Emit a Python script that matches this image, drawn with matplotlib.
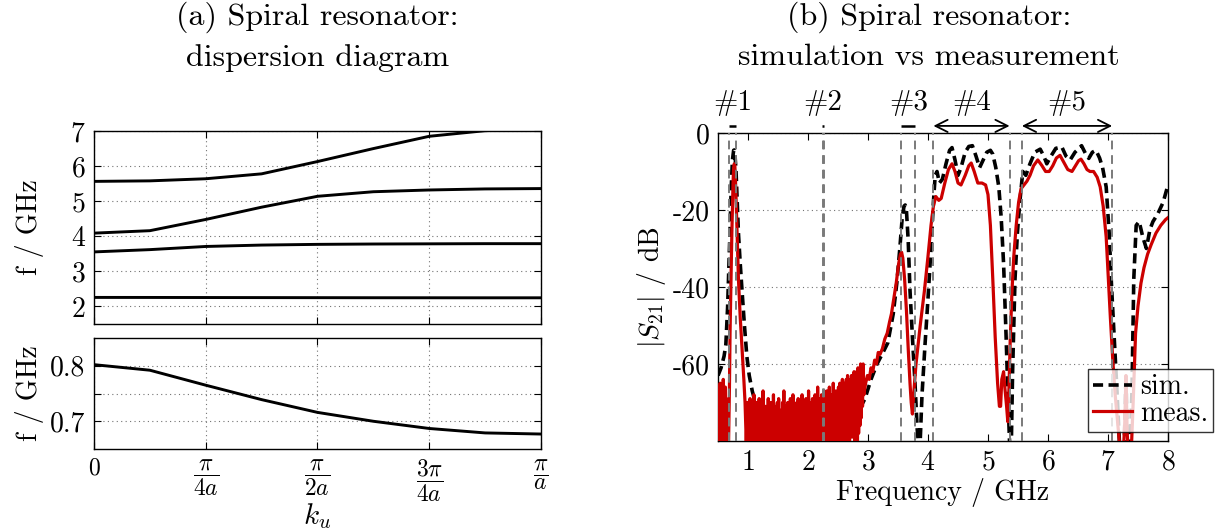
import numpy as np
import matplotlib
matplotlib.use("Agg")
import matplotlib.pyplot as plt
from matplotlib.transforms import blended_transform_factory

plt.rcParams.update({
    "font.family": "cmr10",
    "mathtext.fontset": "cm",
    "axes.unicode_minus": False,
    "axes.formatter.use_mathtext": True,
})

# ---------------- dispersion diagram (k in units of pi/a) ----------------
k_u = [0.0, 0.125, 0.25, 0.375, 0.5, 0.625, 0.75, 0.875, 1.0]
mode1 = [0.802, 0.792, 0.765, 0.739, 0.716, 0.700, 0.687, 0.679, 0.677]
mode2 = [2.258, 2.257, 2.255, 2.253, 2.251, 2.249, 2.248, 2.247, 2.247]
mode3 = [3.555, 3.62, 3.71, 3.75, 3.77, 3.78, 3.785, 3.79, 3.79]
mode4 = [4.09, 4.16, 4.48, 4.83, 5.14, 5.27, 5.32, 5.35, 5.36]
mode5 = [5.565, 5.58, 5.64, 5.78, 6.13, 6.50, 6.85, 7.01, 7.07]
k_ticks = [0, 0.25, 0.5, 0.75, 1.0]
k_labels = ["$0$", r"$\dfrac{\pi}{4a}$", r"$\dfrac{\pi}{2a}$",
            r"$\dfrac{3\pi}{4a}$", r"$\dfrac{\pi}{a}$"]

# ---------------- |S21| simulation ----------------
sim_f = [0.50, 0.55, 0.60, 0.63, 0.66, 0.68, 0.70, 0.72, 0.74, 0.76,
         0.77, 0.78, 0.80, 0.82, 0.84, 0.87, 0.90, 0.94, 0.98, 1.02,
         1.07, 1.12, 1.20, 1.30, 1.50, 1.80, 2.10, 2.40, 2.60, 2.75,
         2.85, 2.95, 3.05, 3.15, 3.25, 3.33, 3.42, 3.48, 3.53, 3.57,
         3.60, 3.62, 3.64, 3.67, 3.70, 3.74, 3.78, 3.82, 3.86, 3.90,
         3.95, 4.00, 4.05, 4.09, 4.12, 4.15, 4.19, 4.24, 4.30, 4.36,
         4.40, 4.45, 4.50, 4.55, 4.62, 4.68, 4.74, 4.80, 4.86, 4.92,
         4.98, 5.04, 5.08, 5.13, 5.18, 5.22, 5.26, 5.30, 5.34, 5.37,
         5.39, 5.41, 5.45, 5.49, 5.53, 5.58, 5.63, 5.70, 5.78, 5.87,
         5.93, 5.98, 6.05, 6.13, 6.23, 6.30, 6.37, 6.45, 6.56, 6.63,
         6.68, 6.74, 6.80, 6.86, 6.91, 6.97, 7.02, 7.06, 7.10, 7.15,
         7.19, 7.23, 7.27, 7.30, 7.33, 7.37, 7.40, 7.43, 7.47, 7.52,
         7.58, 7.64, 7.70, 7.75, 7.83, 7.92, 8.00]
sim_db = [-63, -61, -58, -55, -45, -35, -25, -14, -7, -4.5,
          -4.4, -5, -10, -18, -26, -34, -41, -50, -58, -63,
          -67, -70, -72, -74, -76, -78, -78, -77, -75, -74,
          -72, -69, -64, -60, -57, -54.5, -47, -39, -30, -22,
          -19, -18.7, -20, -28, -41, -53, -64, -77, -84, -68,
          -55, -43, -30, -18, -11, -10, -13, -12, -8, -4.5,
          -3.8, -7, -11, -9, -5, -3.5, -3.3, -6, -9, -7,
          -5, -4.5, -5.5, -9, -14, -22, -34, -52, -72, -85,
          -80, -62, -38, -26, -18, -10, -11, -8, -5, -4.2,
          -6, -8, -6, -4, -3.6, -6, -7, -5, -3.3, -5.5,
          -6.6, -5, -4.5, -6.5, -9, -14, -26, -40, -52, -67,
          -80, -86, -82, -63, -85, -82, -67, -38, -24, -23,
          -27, -30, -25, -23, -21, -18, -13.5]

# ---------------- |S21| measurement ----------------
# noise floor below the first passband (0.50 ... 0.665 GHz)
meas_floor_a = (0.50, 0.665)
meas_floor_a_db = [-66, -84, -68, -88, -65, -82, -69, -86, -67, -90,
                   -64, -83, -68, -85, -66, -88, -69, -84, -70, -86]
# first passband
meas_pk_f = [0.67, 0.69, 0.70, 0.72, 0.73, 0.75, 0.76, 0.77, 0.78, 0.79,
             0.81, 0.84, 0.87, 0.90, 0.93, 0.95, 0.97]
meas_pk_db = [-86, -66, -52, -35, -26, -13, -9, -8, -8.5, -12,
              -22, -38, -48, -56, -64, -70, -80]
# noise floor in the wide stopband (0.99 ... 2.93 GHz)
meas_floor_b = (0.99, 2.93)
meas_floor_b_db = [
    -70, -86, -72, -83, -69, -90, -73, -84, -71, -88, -68, -85, -74, -82, -70, -91, -72, -84, -69, -87,
    -73, -83, -70, -89, -67, -85, -72, -82, -71, -90, -74, -84, -69, -86, -72, -83, -70, -88, -73, -85,
    -68, -84, -71, -90, -73, -82, -70, -87, -69, -85, -72, -83, -74, -89, -70, -84, -67, -86, -71, -82,
    -72, -88, -70, -84, -73, -85, -69, -90, -71, -83, -68, -86, -72, -84, -74, -87, -70, -82, -69, -89,
    -71, -84, -73, -86, -68, -83, -70, -88, -72, -85, -69, -82, -71, -90, -67, -84, -73, -86, -70, -83,
    -69, -87, -71, -84, -68, -85, -70, -82, -66, -88, -69, -84, -71, -86, -68, -83, -70, -89, -67, -85,
    -69, -84, -67, -86, -70, -82, -66, -87, -68, -83, -69, -85, -65, -84, -68, -88, -67, -82, -69, -86,
    -66, -83, -65, -85, -67, -81, -64, -84, -66, -82, -65, -80, -64, -83, -63, -79, -65, -81, -64, -78,
    -63, -79, -64, -78, -62, -80, -63, -77, -62, -86, -61, -78, -62, -76, -60, -74, -61, -71, -60, -68]
# rest of the sweep
meas_tail_f = [2.96, 2.99, 3.02, 3.05, 3.08, 3.11, 3.14, 3.17, 3.20, 3.24,
               3.28, 3.32, 3.36, 3.39, 3.43, 3.47, 3.51, 3.54, 3.56, 3.58,
               3.61, 3.64, 3.67, 3.70, 3.72, 3.74, 3.76, 3.78, 3.80, 3.87,
               3.94, 4.00, 4.05, 4.09, 4.13, 4.18, 4.22, 4.28, 4.34, 4.40,
               4.45, 4.50, 4.55, 4.62, 4.68, 4.72, 4.77, 4.83, 4.90, 4.96,
               5.00, 5.04, 5.08, 5.12, 5.16, 5.19, 5.21, 5.23, 5.26, 5.28,
               5.31, 5.33, 5.35, 5.37, 5.40, 5.43, 5.47, 5.51, 5.55, 5.60,
               5.65, 5.70, 5.76, 5.83, 5.90, 5.96, 6.02, 6.08, 6.14, 6.20,
               6.26, 6.33, 6.40, 6.46, 6.51, 6.55, 6.60, 6.65, 6.70, 6.76,
               6.82, 6.87, 6.92, 6.97, 7.00, 7.04, 7.08, 7.12, 7.16, 7.20,
               7.25, 7.28, 7.30, 7.32, 7.35, 7.39, 7.42, 7.46, 7.50, 7.55,
               7.60, 7.66, 7.72, 7.80, 7.88, 7.96, 8.00]
meas_tail_db = [-65, -63, -64, -61, -62, -59, -60, -57, -57.5, -56,
                -53.5, -52, -49, -47, -43, -39, -34, -31.5, -31, -32.5,
                -38, -46, -56, -65, -70, -73, -68, -64, -60, -50,
                -41, -32, -24, -19, -16.5, -17.5, -17, -13, -9.5, -8,
                -10, -13, -13.5, -11, -8.5, -7.8, -10, -13, -13, -13.5,
                -16, -24, -38, -53, -65, -71, -71, -64, -62, -66,
                -71, -75, -66, -54, -41, -32, -24, -18, -14.5, -13.5,
                -12.5, -11, -8.5, -7, -8.5, -10, -10, -8.5, -6.5, -5.8,
                -7.5, -9.5, -10, -8.5, -7.2, -6.8, -8, -9.5, -10, -10,
                -11.5, -14, -19, -27, -36, -48, -59, -68, -75, -82,
                -85, -75, -63, -78, -85, -82, -70, -52, -45, -39,
                -35, -31.5, -29, -26, -24, -22.5, -22]

band_names = ["#1", "#2", "#3", "#4", "#5"]
f_ticks = [1, 2, 3, 4, 5, 6, 7, 8]
s_ticks = [-60, -40, -20, 0]

# ---------------- assemble measurement trace ----------------
meas_f = np.concatenate([
    np.linspace(*meas_floor_a, len(meas_floor_a_db)), meas_pk_f,
    np.linspace(*meas_floor_b, len(meas_floor_b_db)), meas_tail_f])
meas_db = np.concatenate([meas_floor_a_db, meas_pk_db, meas_floor_b_db, meas_tail_db])

upper_modes = [mode2, mode3, mode4, mode5]
all_modes = [mode1] + upper_modes
bands = [(min(m), max(m)) for m in all_modes]

FS = 20     # axis labels
TS = 20     # tick labels
grid_kw = dict(color="0.45", linestyle=(0, (1, 3)), linewidth=0.8)

fig = plt.figure(figsize=(12.16, 5.29), dpi=100)
ax_hi = fig.add_axes([0.0773, 0.3875, 0.3676, 0.3648])
ax_lo = fig.add_axes([0.0773, 0.1512, 0.3676, 0.2098])
ax_s = fig.add_axes([0.5905, 0.1664, 0.3700, 0.5822])

for ax in (ax_hi, ax_lo, ax_s):
    ax.tick_params(direction="in", top=True, right=True, length=5,
                   width=0.8, labelsize=TS, pad=6)
    for sp in ax.spines.values():
        sp.set_linewidth(1.0)

# upper branches
for m in upper_modes:
    ax_hi.plot(k_u, m, color="black", lw=2.1)
ax_hi.set_xlim(0, 1)
ax_hi.set_ylim(1.5, 7)
ax_hi.set_xticks(k_ticks)
ax_hi.set_xticklabels([])
ax_hi.set_yticks([2, 3, 4, 5, 6, 7])
ax_hi.grid(True, **grid_kw)
ax_hi.set_ylabel("f / GHz", fontsize=FS)
ax_hi.yaxis.set_label_coords(-0.112, 0.5)

# lowest branch
ax_lo.plot(k_u, mode1, color="black", lw=2.1)
ax_lo.set_xlim(0, 1)
ax_lo.set_ylim(0.65, 0.85)
ax_lo.set_yticks([0.7, 0.75, 0.8])
ax_lo.set_yticklabels(["0.7", "", "0.8"])
ax_lo.set_xticks(k_ticks)
ax_lo.set_xticklabels(k_labels)
ax_lo.tick_params(axis="x", labelsize=17, pad=6)
ax_lo.grid(True, **grid_kw)
ax_lo.set_ylabel("f / GHz", fontsize=FS)
ax_lo.yaxis.set_label_coords(-0.112, 0.5)
ax_lo.set_xlabel("$k_u$", fontsize=21, va="top")
ax_lo.xaxis.set_label_coords(0.5, -0.47)

# transmission
ax_s.plot(sim_f, sim_db, color="black", lw=2.6, linestyle=(0, (2.8, 1.5)),
          label="sim.", zorder=3)
ax_s.plot(meas_f, meas_db, color="#cc0000", lw=2.3, label="meas.", zorder=4)
for lo, hi in bands:
    for f in (lo, hi):
        ax_s.axvline(f, color="0.48", lw=1.4, linestyle=(0, (4.5, 3)), zorder=5)
ax_s.set_xlim(0.5, 8)
ax_s.set_ylim(-80, 0)
ax_s.set_xticks(f_ticks)
ax_s.set_yticks(s_ticks)
ax_s.set_yticklabels([str(v) for v in s_ticks])
ax_s.yaxis.grid(True, **grid_kw)
ax_s.set_xlabel("Frequency / GHz", fontsize=FS, labelpad=2)
ax_s.set_ylabel(r"$|S_{21}|$ / dB", fontsize=FS)
ax_s.yaxis.set_label_coords(-0.112, 0.5)

trans = blended_transform_factory(ax_s.transData, ax_s.transAxes)
for i, (name, (lo, hi)) in enumerate(zip(band_names, bands)):
    ax_s.text((lo + hi) / 2, 1.097, name, transform=trans, ha="center",
              va="center", fontsize=21, clip_on=False)
    if i < 3:
        w = max(hi - lo, 0.03)
        c = (lo + hi) / 2
        ax_s.plot([c - w / 2, c + w / 2], [1.023, 1.023], transform=trans,
                  color="black", lw=1.8, clip_on=False, solid_capstyle="butt")
    else:
        ax_s.annotate("", xy=(lo, 1.023), xytext=(hi, 1.023),
                      xycoords=trans, textcoords=trans,
                      arrowprops=dict(arrowstyle="<->", lw=1.3,
                                      mutation_scale=22, shrinkA=0, shrinkB=0))

leg = ax_s.legend(loc="lower right", bbox_to_anchor=(1.1, 0.03),
                  borderaxespad=0, fontsize=TS, frameon=True, fancybox=False,
                  handlelength=1.4, handletextpad=0.3, borderpad=0.18,
                  labelspacing=0.0)
leg.get_frame().set_edgecolor("black")
leg.get_frame().set_linewidth(1.0)
leg.set_zorder(10)

fig.text(0.2612, 0.997, "(a) Spiral resonator:\ndispersion diagram",
         ha="center", va="top", fontsize=23, linespacing=1.5)
fig.text(0.764, 0.997, "(b) Spiral resonator:\nsimulation vs measurement",
         ha="center", va="top", fontsize=23, linespacing=1.5)

fig.savefig("out.png", dpi=100)
